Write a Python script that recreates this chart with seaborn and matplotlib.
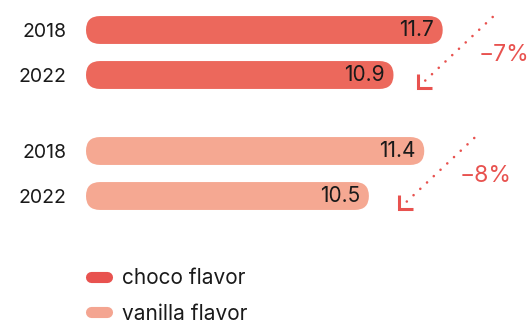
import matplotlib
matplotlib.use("Agg")
import matplotlib.pyplot as plt
from matplotlib.patches import FancyBboxPatch
from matplotlib.lines import Line2D
import seaborn as sns
import pandas as pd

# data
years = ['2018', '2022']
flavors = ['choco flavor', 'vanilla flavor']
choco = [11.7, 10.9]
vanilla = [11.4, 10.5]

bar_colors = ['#ec685c', '#f5a892']
legend_colors = ['#e8524f', '#f4a591']
accent = '#e8524f'

sns.set_theme(style='white')
plt.rcParams['font.family'] = ['Inter', 'DejaVu Sans']

W, H = 532, 323
fig = plt.figure(figsize=(W / 100, H / 100), dpi=100)

# the value axis is cut, bars start at ~5.9
X0 = 5.9
PX_PER_UNIT = 61.5
LEFT = 86
xmax = X0 + (W - LEFT) / PX_PER_UNIT
PX_PER_ROW = 45


def rounded_bars(ax, color):
    # swap the seaborn rectangles for pill shapes starting at the cut
    r_px = 14
    rx = r_px / PX_PER_UNIT
    ry = r_px / PX_PER_ROW
    for p in list(ax.patches):
        x, y, w, h = p.get_x(), p.get_y(), p.get_width(), p.get_height()
        x1 = x + w
        x = max(x, X0)
        p.remove()
        ax.add_patch(FancyBboxPatch((x, y), x1 - x, h,
                                    boxstyle=f'round,pad=0,rounding_size={rx}',
                                    mutation_aspect=ry / rx,
                                    fc=color, ec='none'))


def draw_group(top_px, vals, color):
    ax = fig.add_axes([LEFT / W, (H - top_px - 99) / H, (W - LEFT) / W, 99 / H])
    df = pd.DataFrame({'year': years, 'value': vals})
    sns.barplot(data=df, x='value', y='year', orient='h', color=color,
                width=0.62, ax=ax, saturation=1)
    rounded_bars(ax, color)
    ax.set_xlim(X0, xmax)
    ax.set_ylim(1.6, -0.6)
    ax.set_xlabel('')
    ax.set_ylabel('')
    ax.set_xticks([])
    sns.despine(ax=ax, left=True, bottom=True)
    ax.tick_params(axis='y', left=False, length=0, labelsize=14, pad=14,
                   labelcolor='#1a1a1a')
    for i, v in enumerate(vals):
        ax.annotate(f'{v}', (v, i), xytext=(-9, 0), textcoords='offset pixels',
                    ha='right', va='center', fontsize=15, color='#1a1a1a')
    return ax


ax1 = draw_group(3, choco, bar_colors[0])
ax2 = draw_group(124, vanilla, bar_colors[1])

# overlay in pixel units for the change arrows
ov = fig.add_axes([0, 0, 1, 1])
ov.set_xlim(0, W)
ov.set_ylim(H, 0)
ov.axis('off')

fig.canvas.draw()
for ax, vals in [(ax1, choco), (ax2, vanilla)]:
    ex, ey = ax.transData.transform((vals[0], 0))
    ey = H - ey
    sx, sy = ex + 50, ey - 13
    cx, cy = sx - 75, sy + 71
    ov.plot([sx, cx + 6], [sy, cy - 6], color=accent, lw=1.9,
            linestyle=(0, (0.01, 3.5)), dash_capstyle='round')
    ov.plot([cx, cx, cx + 14], [cy - 14, cy, cy], color=accent, lw=2.2,
            solid_capstyle='butt', solid_joinstyle='miter')
    pct = round((vals[1] - vals[0]) / vals[0] * 100)
    ov.text(sx + 11, sy + 38, f'\u2212{abs(pct)}%', ha='center', va='center',
            fontsize=16.5, color=accent)

handles = [Line2D([], [], color=c, lw=8, solid_capstyle='round') for c in legend_colors]
fig.legend(handles, flavors, loc='upper left', bbox_to_anchor=(91 / W, 1 - 268 / H),
           frameon=False, fontsize=15, handlelength=0.75, handletextpad=0.75,
           labelspacing=0.75, borderpad=0, borderaxespad=0, labelcolor='#1a1a1a')

fig.savefig('out.png', dpi=100)
